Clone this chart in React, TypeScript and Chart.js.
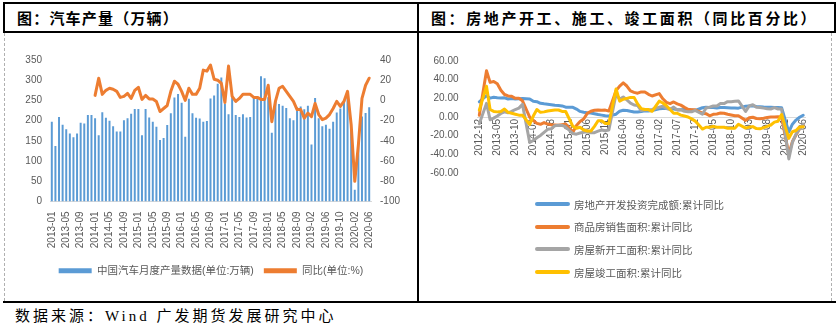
import React, { useEffect, useRef } from "react";
import { Chart, registerables } from "chart.js";
Chart.register(...registerables);

const FONT = '"Liberation Sans", "Noto Sans CJK SC", sans-serif';
const TXT = "#595959";

// ---------- Left chart: car output ----------
const carMonths = [
  "2013-01","2013-02","2013-03","2013-04","2013-05","2013-06","2013-07","2013-08","2013-09","2013-10","2013-11","2013-12",
  "2014-01","2014-02","2014-03","2014-04","2014-05","2014-06","2014-07","2014-08","2014-09","2014-10","2014-11","2014-12",
  "2015-01","2015-02","2015-03","2015-04","2015-05","2015-06","2015-07","2015-08","2015-09","2015-10","2015-11","2015-12",
  "2016-01","2016-02","2016-03","2016-04","2016-05","2016-06","2016-07","2016-08","2016-09","2016-10","2016-11","2016-12",
  "2017-01","2017-02","2017-03","2017-04","2017-05","2017-06","2017-07","2017-08","2017-09","2017-10","2017-11","2017-12",
  "2018-01","2018-02","2018-03","2018-04","2018-05","2018-06","2018-07","2018-08","2018-09","2018-10","2018-11","2018-12",
  "2019-02","2019-03","2019-04","2019-05","2019-06","2019-07","2019-08","2019-09","2019-10","2019-11","2019-12",
  "2020-01","2020-02","2020-03","2020-04","2020-05","2020-06",
];
const carOutput = [
  197, 137, 209, 190, 179, 168, 159, 168, 195, 193, 214, 214,
  206, 164, 221, 207, 200, 186, 173, 173, 201, 206, 217, 229,
  229, 164, 229, 208, 197, 185, 152, 157, 189, 218, 257, 266,
  244, 160, 254, 218, 207, 205, 197, 199, 255, 262, 291, 307,
  241, 216, 258, 214, 209, 216, 208, 209, 260, 255, 310, 305,
  258, 170, 248, 241, 237, 231, 206, 201, 233, 235, 228, 237,
  141, 256, 206, 186, 190, 180, 197, 220, 230, 250, 262,
  175, 29, 142, 210, 219, 233,
];
const carYoY = [
  null, null, null, null, null, null, null, null, null, null, null, null,
  5, 22, 6, 10, 12, 11, 9, 3, 4, 7, 2, 10,
  13, 1, 5, 1.5, 1.5, -1, -11, -8, -5, 9, 19, 16,
  9, 0, 12, 6, 6, 12, 30, 29, 35, 21, 20, 17,
  -2, 34, 4, -1, 2, 6, 6, 6, 3, 3, 1, 1,
  15, -21, -1, 12, 14, 9, 4, -1, -9, -9, -17.5, -12.6,
  -16, -3, -14, -19, -17.5, -14, -8, -1, -6, -1, 9,
  -24, -80, -44, 2, 15, 22,
];
const carLeftAxis = { min: 0, max: 350, step: 50 };
const carRightAxis = { min: -100, max: 40, step: 20 };

// ---------- Right chart: real estate ----------
const reMonths = [
  "2012-12",
  "2013-01","2013-02","2013-03","2013-04","2013-05","2013-06","2013-07","2013-08","2013-09","2013-10","2013-11","2013-12",
  "2014-01","2014-02","2014-03","2014-04","2014-05","2014-06","2014-07","2014-08","2014-09","2014-10","2014-11","2014-12",
  "2015-01","2015-02","2015-03","2015-04","2015-05","2015-06","2015-07","2015-08","2015-09","2015-10","2015-11","2015-12",
  "2016-01","2016-02","2016-03","2016-04","2016-05","2016-06","2016-07","2016-08","2016-09","2016-10","2016-11","2016-12",
  "2017-01","2017-02","2017-03","2017-04","2017-05","2017-06","2017-07","2017-08","2017-09","2017-10","2017-11","2017-12",
  "2018-01","2018-02","2018-03","2018-04","2018-05","2018-06","2018-07","2018-08","2018-09","2018-10","2018-11","2018-12",
  "2019-01","2019-02","2019-03","2019-04","2019-05","2019-06","2019-07","2019-08","2019-09","2019-10","2019-11","2019-12",
  "2020-01","2020-02","2020-03","2020-04","2020-05","2020-06",
];
const reInvest = [
  16.2,
  null, 22.8, 20.2, 21.1, 20.6, 20.3, 20.5, 19.3, 19.7, 19.2, 19.5, 19.8,
  null, 19.3, 16.8, 16.4, 14.7, 14.1, 13.7, 13.2, 12.5, 12.4, 11.9, 10.5,
  null, 10.4, 8.5, 6.0, 5.1, 4.6, 4.3, 3.5, 2.6, 2.0, 1.3, 1.0,
  null, 3.0, 6.2, 7.2, 7.0, 6.1, 5.3, 5.4, 5.8, 6.6, 6.5, 6.9,
  null, 8.9, 9.1, 9.3, 8.8, 8.5, 7.9, 7.9, 8.1, 7.8, 7.5, 7.0,
  null, 9.9, 10.4, 10.3, 10.2, 9.7, 10.2, 10.1, 9.9, 9.7, 9.7, 9.5,
  null, 11.6, 11.8, 11.9, 11.2, 10.9, 10.6, 10.5, 10.5, 10.3, 10.2, 9.9,
  null, -16.3, -7.7, -3.3, -0.3, 1.9,
];
const reSales = [
  1.8,
  null, 49.5, 37.1, 38.0, 35.6, 28.7, 24.1, 22.6, 22.2, 20.0, 20.0, 17.3,
  null, -0.1, -3.8, -6.8, -7.8, -6.0, -7.6, -8.3, -8.6, -8.9, -8.2, -7.6,
  null, -16.3, -9.2, -4.8, -2.2, 3.9, 6.1, 7.2, 7.5, 7.2, 7.4, 6.5,
  null, 28.2, 33.1, 36.5, 33.2, 27.9, 26.4, 25.5, 26.9, 26.8, 24.3, 22.5,
  null, 25.1, 19.5, 15.7, 14.3, 16.1, 14.0, 12.7, 10.3, 8.2, 7.9, 7.7,
  null, 4.1, 3.6, 1.3, 2.9, 3.3, 4.2, 4.0, 2.9, 2.2, 1.4, 1.3,
  null, -3.6, -0.9, -0.3, -1.6, -1.8, -1.3, -0.6, -0.1, 0.1, 0.2, -0.1,
  null, -39.9, -26.3, -19.3, -12.3, -8.4,
];
const reStarts = [
  -7.3,
  null, 14.6, -3.0, -1.2, 1.0, 3.8, 5.6, 4.5, 6.0, 8.0, 9.5, 13.5,
  null, -27.3, -25.2, -22.3, -19.8, -16.4, -13.2, -12.6, -9.3, -8.9, -9.0, -10.7,
  null, -17.7, -18.4, -17.1, -16.3, -15.8, -16.8, -16.8, -15.1, -13.9, -14.7, -14.0,
  null, 24.6, 19.2, 21.4, 18.3, 14.9, 12.9, 12.2, 6.9, 7.7, 7.6, 8.1,
  null, 10.4, 11.6, 9.1, 8.1, 10.6, 7.6, 7.7, 6.1, 5.6, 5.5, 7.0,
  null, 2.9, 9.7, 10.5, 11.8, 11.8, 14.4, 14.4, 16.4, 16.3, 16.8, 17.2,
  null, 6.0, 11.9, 13.1, 10.5, 10.1, 9.5, 8.9, 8.6, 10.0, 8.6, 8.5,
  null, -44.9, -27.2, -18.4, -12.8, -7.6,
];
const reCompleted = [
  7.3,
  null, 33, 8, 6, 5.5, 6, 8.5, 5, 4, 3, 2, 2,
  null, -8, 1, 8, 5, 5.5, 6.5, 7, 7.5, 7.5, 6, 5.9,
  null, -10, -12, -11, -14, -15, -15, -10, -4, -4, -7, -6.9,
  null, 30, 17, 19, 20, 21, 21, 14, 9, 8, 8, 6.1,
  null, 17, 15, 12, 8, 4, 4, 2, 1, 0, -2, -4.4,
  null, -12.9, -11, -11, -10, -11, -11, -11, -12, -12, -12, -7.8,
  null, -11.9, -10.8, -10.3, -12.4, -12.7, -11.3, -10.0, -8.6, -5.5, -4.5, 2.6,
  null, -22.9, -15.8, -14.5, -10.6, -10.5,
];
const reAxis = { min: -60, max: 60, step: 20 };
const reSeries = [
  { name: "房地产开发投资完成额:累计同比", data: reInvest, color: "#5B9BD5" },
  { name: "商品房销售面积:累计同比", data: reSales, color: "#ED7D31" },
  { name: "房屋新开工面积:累计同比", data: reStarts, color: "#A5A5A5" },
  { name: "房屋竣工面积:累计同比", data: reCompleted, color: "#FFC000" },
];

function CarChart() {
  const ref = useRef<HTMLCanvasElement>(null);
  useEffect(() => {
    const chart = new Chart(ref.current as HTMLCanvasElement, {
      type: "bar",
      data: {
        labels: carMonths,
        datasets: [
          {
            type: "bar",
            label: "中国汽车月度产量数据(单位:万辆)",
            data: carOutput,
            backgroundColor: "#5B9BD5",
            yAxisID: "y",
            order: 1,
            barPercentage: 0.55,
            categoryPercentage: 1,
          } as any,
          {
            type: "line",
            label: "同比(单位:%)",
            data: carYoY,
            borderColor: "#ED7D31",
            backgroundColor: "#ED7D31",
            borderWidth: 3,
            pointRadius: 0,
            yAxisID: "y1",
            order: 0,
            tension: 0,
            borderJoinStyle: "round",
            borderCapStyle: "round",
          } as any,
        ],
      },
      options: {
        responsive: false,
        animation: false,
        devicePixelRatio: 1,
        layout: { padding: { top: 27, bottom: 15, left: 0, right: 0 } },
        plugins: {
          tooltip: { enabled: false },
          legend: {
            position: "bottom",
            labels: {
              boxWidth: 33,
              boxHeight: 5,
              padding: 10,
              color: TXT,
              font: { family: FONT, size: 10.5 },
              sort: (a: any, b: any) => a.datasetIndex - b.datasetIndex,
              generateLabels: (c: any) =>
                (Chart.defaults.plugins.legend.labels.generateLabels as any)(c).map((it: any) => ({
                  ...it,
                  fillStyle: c.data.datasets[it.datasetIndex].backgroundColor,
                  lineWidth: 0,
                })),
            },
          },
        },
        scales: {
          x: {
            offset: true,
            grid: { display: false, drawTicks: false },
            border: { display: true, color: "#d9d9d9" },
            ticks: {
              autoSkip: false,
              maxRotation: 90,
              minRotation: 90,
              padding: 10,
              color: TXT,
              font: { family: FONT, size: 10 },
              callback: (_v: any, i: number) => (i % 4 === 0 ? carMonths[i] : ""),
            },
            afterFit: (s: any) => {
              s.height = 54;
            },
          },
          y: {
            position: "left",
            min: carLeftAxis.min,
            max: carLeftAxis.max,
            grid: { display: false, drawTicks: false },
            border: { display: false },
            ticks: { stepSize: carLeftAxis.step, padding: 8, color: TXT, font: { family: FONT, size: 10 } },
            afterFit: (s: any) => {
              s.width = 46;
            },
          },
          y1: {
            position: "right",
            min: carRightAxis.min,
            max: carRightAxis.max,
            grid: { display: false, drawTicks: false },
            border: { display: false },
            ticks: { stepSize: carRightAxis.step, padding: 9, color: TXT, font: { family: FONT, size: 10 } },
            afterFit: (s: any) => {
              s.width = 47;
            },
          },
        },
      } as any,
    });
    return () => chart.destroy();
  }, []);
  return <canvas ref={ref} width={414} height={268} style={{ position: "absolute", left: 4, top: 33 }} />;
}

function RealEstateChart() {
  const ref = useRef<HTMLCanvasElement>(null);
  useEffect(() => {
    const orders = [3, 2, 1, 0];
    const chart = new Chart(ref.current as HTMLCanvasElement, {
      type: "line",
      data: {
        labels: reMonths,
        datasets: reSeries.map((s, k) => ({
          label: s.name,
          data: s.data,
          borderColor: s.color,
          backgroundColor: s.color,
          borderWidth: 3,
          pointRadius: 0,
          tension: 0,
          spanGaps: true,
          order: orders[k],
          borderJoinStyle: "round",
          borderCapStyle: "round",
        })) as any,
      },
      options: {
        responsive: false,
        animation: false,
        devicePixelRatio: 1,
        layout: { padding: { top: 28, bottom: 128, left: 0, right: 27 } },
        plugins: { legend: { display: false }, tooltip: { enabled: false } },
        scales: {
          x: {
            position: { y: 0 },
            offset: true,
            grid: { display: false, drawTicks: false },
            border: { display: true, color: "#d9d9d9" },
            ticks: {
              autoSkip: false,
              maxRotation: 90,
              minRotation: 90,
              padding: 2,
              color: TXT,
              font: { family: FONT, size: 10 },
              callback: (_v: any, i: number) => (i % 5 === 0 ? reMonths[i] : ""),
            },
          },
          y: {
            min: reAxis.min,
            max: reAxis.max,
            grid: { display: false, drawTicks: false },
            border: { display: false },
            ticks: {
              stepSize: reAxis.step,
              padding: 19,
              color: TXT,
              font: { family: FONT, size: 10 },
              callback: (v: any) => Number(v).toFixed(2),
            },
            afterFit: (s: any) => {
              s.width = 58.5;
            },
          },
        },
      } as any,
    });
    return () => chart.destroy();
  }, []);
  return <canvas ref={ref} width={413} height={268} style={{ position: "absolute", left: 419, top: 33 }} />;
}

const line = (l: number, t: number, w: number, h: number): React.CSSProperties => ({
  position: "absolute",
  left: l,
  top: t,
  width: w,
  height: h,
  background: "#000",
});

export default function App() {
  return (
    <div
      style={{
        position: "absolute",
        left: 0,
        top: 0,
        width: 838,
        height: 326,
        background: "#fff",
        overflow: "hidden",
      }}
    >
      <div style={{ position: "absolute", left: 4, top: 33, height: 268, borderLeft: "1px dashed #b0b0b0" }} />
      <div style={{ position: "absolute", left: 831, top: 33, height: 268, borderLeft: "1px dashed #b0b0b0" }} />
      <CarChart />
      <RealEstateChart />
      <div style={line(3, 2, 833, 2)} />
      <div style={line(3, 31, 833, 2)} />
      <div style={line(3, 2, 2, 30)} />
      <div style={line(417, 2, 2, 301)} />
      <div style={line(834, 2, 2, 30)} />
      <div style={line(3, 301, 833, 2)} />
      <div
        style={{
          position: "absolute",
          left: 17,
          top: 8,
          fontFamily: '"Noto Sans CJK SC", sans-serif',
          fontWeight: 700,
          fontSize: 15,
          letterSpacing: 1.2,
          lineHeight: "20px",
          color: "#000",
          whiteSpace: "nowrap",
        }}
      >
        图：汽车产量（万辆）
      </div>
      <div
        style={{
          position: "absolute",
          left: 431,
          top: 8,
          fontFamily: '"Noto Sans CJK SC", sans-serif',
          fontWeight: 700,
          fontSize: 15,
          letterSpacing: 2.6,
          lineHeight: "20px",
          color: "#000",
          whiteSpace: "nowrap",
        }}
      >
        图：房地产开工、施工、竣工面积（同比百分比）
      </div>
      {reSeries.map((s, k) => (
        <div
          key={s.name}
          style={{
            position: "absolute",
            left: 535,
            top: 196 + k * 22.7,
            height: 16,
            display: "flex",
            alignItems: "center",
            whiteSpace: "nowrap",
          }}
        >
          <div style={{ width: 35, height: 4, borderRadius: 2, background: s.color }} />
          <span style={{ marginLeft: 4, fontFamily: FONT, fontSize: 10.5, color: TXT }}>{s.name}</span>
        </div>
      ))}
      <div
        style={{
          position: "absolute",
          left: 15,
          top: 307,
          fontFamily: '"Liberation Serif", "Noto Sans CJK SC", serif',
          fontSize: 15,
          letterSpacing: 3,
          lineHeight: "18px",
          color: "#000",
          whiteSpace: "nowrap",
        }}
      >
        数据来源：Wind 广发期货发展研究中心
      </div>
    </div>
  );
}
